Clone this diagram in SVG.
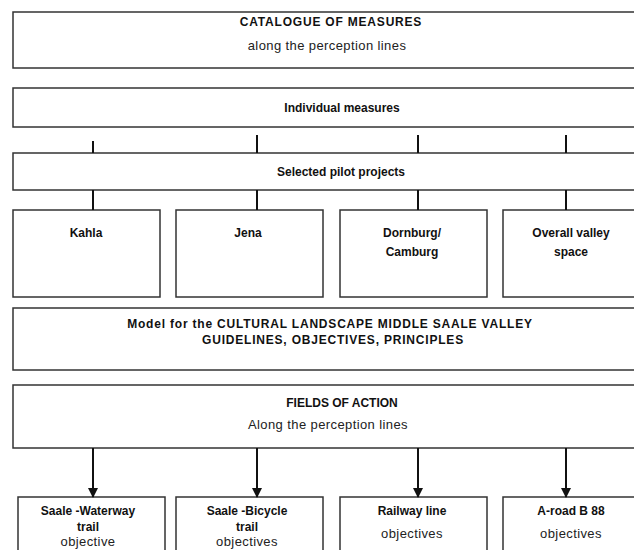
<svg xmlns="http://www.w3.org/2000/svg" width="634" height="550" viewBox="0 0 634 550">
<style>
.box{fill:#fff;stroke:#333;stroke-width:1.5}
.t{font-family:"Liberation Sans",Arial,sans-serif;font-size:12px;fill:#111;text-anchor:middle}
.b{font-weight:bold;font-size:12px}
.ls{letter-spacing:0.8px}
.n{font-size:13px;letter-spacing:0.4px;fill:#222}
.c line{stroke:#111;stroke-width:2}
</style>
<defs>
<marker id="ah" markerWidth="10" markerHeight="10" refX="9" refY="5" orient="auto" markerUnits="userSpaceOnUse" viewBox="0 0 10 10">
<path d="M0,0 L10,5 L0,10 Z" fill="#111"/>
</marker>
</defs>
<rect width="634" height="550" fill="#fff"/>
<g id="catalogue">
<rect class="box" x="13" y="12" width="640" height="56"/>
<text class="t b ls" x="331" y="26">CATALOGUE OF MEASURES</text>
<text class="t n" x="327" y="50">along the perception lines</text>
</g>
<g id="individual">
<rect class="box" x="13" y="88" width="640" height="39"/>
<text class="t b" x="342" y="112">Individual measures</text>
</g>
<g id="pilot">
<rect class="box" x="13" y="153" width="640" height="37"/>
<text class="t b" x="341" y="176">Selected pilot projects</text>
</g>
<g id="kahla">
<rect class="box" x="13" y="210" width="147" height="87"/>
<text class="t b" x="86" y="237">Kahla</text>
</g>
<g id="jena">
<rect class="box" x="176" y="210" width="147" height="87"/>
<text class="t b" x="248" y="237">Jena</text>
</g>
<g id="dornburg">
<rect class="box" x="340" y="210" width="147" height="87"/>
<text class="t b" x="412" y="237">Dornburg/</text>
<text class="t b" x="412" y="256">Camburg</text>
</g>
<g id="overall">
<rect class="box" x="503" y="210" width="147" height="87"/>
<text class="t b" x="571" y="237">Overall valley</text>
<text class="t b" x="571" y="256">space</text>
</g>
<g id="model">
<rect class="box" x="13" y="308" width="640" height="62"/>
<text class="t b ls" x="330" y="328">Model for the CULTURAL LANDSCAPE MIDDLE SAALE VALLEY</text>
<text class="t b ls" x="333" y="344">GUIDELINES, OBJECTIVES, PRINCIPLES</text>
</g>
<g id="fields">
<rect class="box" x="13" y="385" width="640" height="63"/>
<text class="t b" x="342" y="407">FIELDS OF ACTION</text>
<text class="t n" x="328" y="429">Along the perception lines</text>
</g>
<g id="waterway">
<rect class="box" x="18" y="497" width="147" height="70"/>
<text class="t b" x="88" y="515">Saale -Waterway</text>
<text class="t b" x="88" y="531">trail</text>
<text class="t n" x="88" y="546">objective</text>
</g>
<g id="bicycle">
<rect class="box" x="176" y="497" width="147" height="70"/>
<text class="t b" x="247" y="515">Saale -Bicycle</text>
<text class="t b" x="247" y="531">trail</text>
<text class="t n" x="247" y="546">objectives</text>
</g>
<g id="railway">
<rect class="box" x="340" y="497" width="147" height="70"/>
<text class="t b" x="412" y="515">Railway line</text>
<text class="t n" x="412" y="538">objectives</text>
</g>
<g id="aroad">
<rect class="box" x="503" y="497" width="147" height="70"/>
<text class="t b" x="571" y="515">A-road B 88</text>
<text class="t n" x="571" y="538">objectives</text>
</g>
<g id="connectors" class="c">
<line x1="93" y1="141" x2="93" y2="153"/>
<line x1="257" y1="135" x2="257" y2="153"/>
<line x1="418" y1="135" x2="418" y2="153"/>
<line x1="566" y1="135" x2="566" y2="153"/>
<line x1="93" y1="190" x2="93" y2="210"/>
<line x1="257" y1="190" x2="257" y2="210"/>
<line x1="418" y1="190" x2="418" y2="210"/>
<line x1="566" y1="190" x2="566" y2="210"/>
<line x1="93" y1="448" x2="93" y2="497" marker-end="url(#ah)"/>
<line x1="257" y1="448" x2="257" y2="497" marker-end="url(#ah)"/>
<line x1="418" y1="448" x2="418" y2="497" marker-end="url(#ah)"/>
<line x1="566" y1="448" x2="566" y2="497" marker-end="url(#ah)"/>
</g>
</svg>
